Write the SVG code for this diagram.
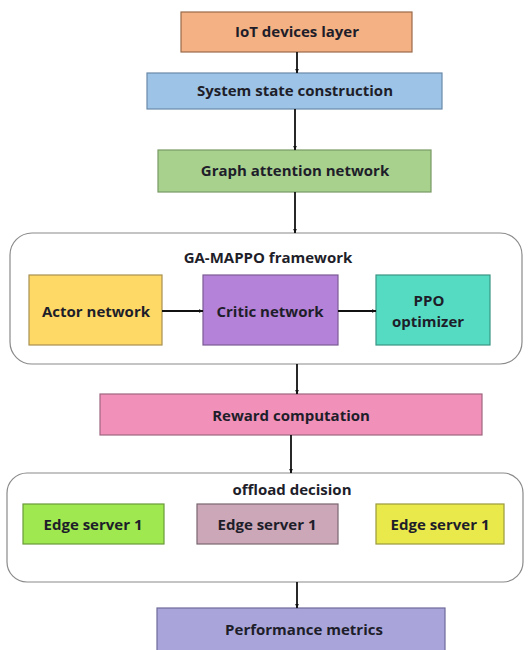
<svg xmlns="http://www.w3.org/2000/svg" width="531" height="650" viewBox="0 0 531 650">
<defs>
<marker id="ah" viewBox="0 0 10 10" refX="9" refY="5" markerWidth="5" markerHeight="5" orient="auto" markerUnits="userSpaceOnUse">
<path d="M0,1 L10,5 L0,9 z" fill="#111"/>
</marker>
<style>
text{font-family:"Open Sans","Liberation Sans",sans-serif;font-weight:700;fill:#1e1e2a;text-anchor:middle;font-size:15px}
.box{stroke-width:1.2}
.cont{fill:#fff;stroke:#8a8a8a;stroke-width:1.2}
.conn line{stroke:#111;stroke-width:1.8;marker-end:url(#ah)}
</style>
</defs>
<rect width="531" height="650" fill="#fff"/>
<g id="iot"><rect class="box" x="181" y="12" width="231" height="40" fill="#F4B183" stroke="#9a6a4a"/><text x="297" y="37">IoT devices layer</text></g>
<g id="state"><rect class="box" x="147" y="73" width="295" height="36" fill="#9DC3E6" stroke="#6a8aaa"/><text x="295" y="96">System state construction</text></g>
<g id="gat"><rect class="box" x="158" y="150" width="273" height="42" fill="#A9D18E" stroke="#789a64"/><text x="295" y="176">Graph attention network</text></g>
<g id="framework"><rect class="cont" x="10" y="233" width="512" height="131" rx="22"/><text x="268" y="263">GA-MAPPO framework</text></g>
<g id="actor"><rect class="box" x="29" y="275" width="133" height="70" fill="#FFD966" stroke="#a89050"/><text x="96" y="317">Actor network</text></g>
<g id="critic"><rect class="box" x="203" y="275" width="135" height="70" fill="#B482D8" stroke="#7a5a94"/><text x="270" y="317">Critic network</text></g>
<g id="ppo"><rect class="box" x="376" y="275" width="114" height="70" fill="#55DBC1" stroke="#3a9484"/><text x="429" y="306">PPO</text><text x="428" y="327">optimizer</text></g>
<g id="reward"><rect class="box" x="100" y="394" width="382" height="41" fill="#F191B9" stroke="#a06680"/><text x="291" y="421">Reward computation</text></g>
<g id="offload"><rect class="cont" x="7" y="473" width="516" height="109" rx="20"/><text x="292" y="495">offload decision</text></g>
<g id="edge1"><rect class="box" x="23" y="504" width="141" height="40" fill="#9FE84F" stroke="#6a9a3a"/><text x="93" y="530">Edge server 1</text></g>
<g id="edge2"><rect class="box" x="197" y="504" width="141" height="40" fill="#CBA7B8" stroke="#7a6670"/><text x="267" y="530">Edge server 1</text></g>
<g id="edge3"><rect class="box" x="376" y="504" width="128" height="40" fill="#EAE94C" stroke="#9a9a3a"/><text x="440" y="530">Edge server 1</text></g>
<g id="perf"><rect class="box" x="157" y="608" width="288" height="46" fill="#A9A5DA" stroke="#6e6a9a"/><text x="304" y="635">Performance metrics</text></g>
<g class="conn" id="connectors">
<line x1="297" y1="52" x2="297" y2="73"/>
<line x1="295" y1="109" x2="295" y2="150"/>
<line x1="295" y1="192" x2="295" y2="233"/>
<line x1="162" y1="311" x2="203" y2="311"/>
<line x1="338" y1="311" x2="376" y2="311"/>
<line x1="297" y1="364" x2="297" y2="394"/>
<line x1="291" y1="435" x2="291" y2="473"/>
<line x1="297" y1="582" x2="297" y2="608"/>
</g>
</svg>
